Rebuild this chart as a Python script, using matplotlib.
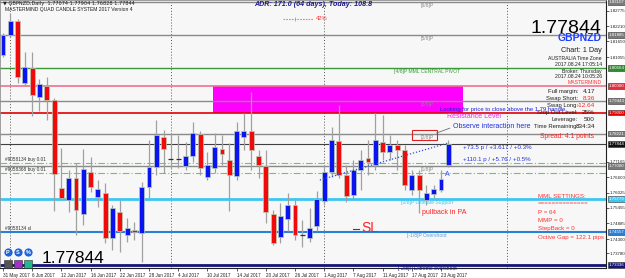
import matplotlib
matplotlib.use('Agg')
import matplotlib.pyplot as plt
from matplotlib.patches import Rectangle
from matplotlib.transforms import blended_transform_factory

plt.rcParams['font.family'] = ['Liberation Sans', 'DejaVu Sans']

# GBPNZD daily bars, 31 May 2017 .. 24 Aug 2017
date_labels = ['31 May 2017', '6 Jun 2017', '12 Jun 2017', '16 Jun 2017', '22 Jun 2017',
               '28 Jun 2017', '4 Jul 2017', '10 Jul 2017', '14 Jul 2017', '20 Jul 2017',
               '26 Jul 2017', '1 Aug 2017', '7 Aug 2017', '11 Aug 2017', '17 Aug 2017',
               '23 Aug 2017']
label_bars = [0, 4, 8, 12, 16, 20, 24, 28, 32, 36, 40, 44, 48, 52, 56, 60]
month_starts = [1, 23, 44, 69]

opens = [1.81138, 1.81881, 1.82401, 1.80098, 1.80655, 1.79577, 1.79986, 1.79466, 1.76197, 1.75751,
         1.76568, 1.75231, 1.76791, 1.75862, 1.76011, 1.74339, 1.75305, 1.74451, 1.74636, 1.74525,
         1.76234, 1.76977, 1.78091, 1.77274, 1.77274, 1.77014, 1.77386, 1.78203, 1.76605, 1.76940,
         1.77646, 1.77237, 1.76643, 1.78091, 1.78314, 1.77386, 1.77014, 1.75231, 1.74376, 1.75045,
         1.75565, 1.74451, 1.74339, 1.74785, 1.75714, 1.76791, 1.77943, 1.76680, 1.75937, 1.76865,
         1.77311, 1.77051, 1.77906, 1.77534, 1.77794, 1.77608, 1.76122, 1.76680, 1.75751, 1.75974,
         1.76122, 1.77051]
highs = [1.81955, 1.82698, 1.82475, 1.81249, 1.81249, 1.80246, 1.80320, 1.79540, 1.77683, 1.76865,
         1.77126, 1.77646, 1.77348, 1.76494, 1.76383, 1.75565, 1.75751, 1.75082, 1.74934, 1.76420,
         1.77980, 1.78723, 1.78351, 1.78240, 1.78166, 1.77906, 1.78649, 1.78314, 1.77534, 1.78240,
         1.78166, 1.77869, 1.78649, 1.78983, 1.79763, 1.77608, 1.77608, 1.75379, 1.75640, 1.76011,
         1.75825, 1.75008, 1.75454, 1.76085, 1.77051, 1.78463, 1.79280, 1.77051, 1.77237, 1.77608,
         1.77980, 1.78983, 1.78909, 1.78166, 1.77980, 1.77794, 1.76865, 1.76865, 1.76308, 1.76308,
         1.76865, 1.77980]
lows = [1.81063, 1.81806, 1.80098, 1.79986, 1.78872, 1.79057, 1.78723, 1.75342, 1.75751, 1.75305,
        1.74451, 1.74822, 1.76048, 1.75491, 1.74154, 1.73893, 1.73819, 1.74191, 1.74265, 1.73448,
        1.75825, 1.76680, 1.76754, 1.76940, 1.76940, 1.76865, 1.77163, 1.76680, 1.76494, 1.76754,
        1.77051, 1.75342, 1.76494, 1.77608, 1.76865, 1.76568, 1.74897, 1.74079, 1.74154, 1.74599,
        1.74265, 1.74005, 1.74191, 1.74599, 1.75565, 1.76605, 1.76568, 1.75677, 1.75751, 1.76122,
        1.76680, 1.76865, 1.77237, 1.77237, 1.76865, 1.76122, 1.75937, 1.75268, 1.75565, 1.75825,
        1.76048, 1.76977]
closes = [1.81881, 1.82401, 1.80320, 1.80692, 1.79652, 1.80060, 1.79466, 1.76717, 1.75825, 1.76568,
          1.75379, 1.76903, 1.76234, 1.76160, 1.74339, 1.75454, 1.74599, 1.74711, 1.74562, 1.76234,
          1.76977, 1.78166, 1.77646, 1.77255, 1.77255, 1.77386, 1.78240, 1.76940, 1.77051, 1.77720,
          1.77460, 1.76680, 1.78314, 1.78314, 1.77608, 1.77051, 1.75305, 1.74154, 1.75157, 1.75565,
          1.74451, 1.74432, 1.74711, 1.75788, 1.76791, 1.77980, 1.76680, 1.75900, 1.76865, 1.77237,
          1.77163, 1.77980, 1.77534, 1.77794, 1.77608, 1.76308, 1.76680, 1.76122, 1.76011, 1.76160,
          1.76531, 1.77844]

# Murrey math levels
mml_levels = [1.83107, 1.81885, 1.80664, 1.79443, 1.78221, 1.77000, 1.75779, 1.74557, 1.73336]
mml_names = ['[6/8]P', '[5/8]P', '[4/8]P MML CENTRAL PIVOT', '[3/8]P', '[2/8]P', '[1/8]P',
             '[0/8]P Ultimate Support', '[-1/8]P Overshoot', '[-2/8]P Extreme overshoot']
mml_colors = ['#8a8a8a', '#8a8a8a', '#3a9a3a', '#8a8a8a', '#8a8a8a', '#8a8a8a',
              '#3ec6f2', '#2a7fd8', '#14147a']
mml_text_colors = ['#8a8a8a', '#8a8a8a', '#3a9a3a', '#8a8a8a', '#8a8a8a', '#8a8a8a',
                   '#3ec6f2', '#5a9ee0', '#14147a']
mml_widths = [1, 1, 1, 1, 1, 1, 2, 1.5, 2]
mml_box_colors = ['#7a7a7a', '#7a7a7a', '#2e8b2e', '#7a7a7a', '#7a7a7a', '#7a7a7a',
                  '#3ec6f2', '#2a7fd8', '#14147a']

last_price = 1.77844
mastermind_level = 1.80000
resistance_level = 1.79000
zone_bars = [28.7, 63.0]
buy_orders = [1.77126, 1.76754]
order_names = ['#9058134 buy 0.01', '#9058368 buy 0.01']
sl_level = 1.74557
trend_bars = [43.4, 61.0]
trend_prices = [1.76494, 1.77869]
price_ticks = [1.82775, 1.82210, 1.81650, 1.81055, 1.80525, 1.79980, 1.79440, 1.78880, 1.78320,
               1.77760, 1.77165, 1.76600, 1.76025, 1.75455, 1.74885, 1.74300, 1.73780, 1.73200]

W, H = 625, 278


def fx(px):
    return px / W


def fy(py):
    return 1 - py / H


fig = plt.figure(figsize=(W / 100, H / 100), dpi=100)
fig.patch.set_facecolor('white')
ax = fig.add_axes([0, 10 / H, 606 / W, 268 / H])
ax.set_facecolor('#f7f7f7')
ax.set_xlim(-0.41, 82.6)
ax.set_ylim(1.73225, 1.83181)

# month separators
for m in month_starts:
    ax.axvline(m, color='#555555', lw=0.7, ls=(0, (1, 2)), zorder=1)

# zone between 1.79 and 1.80
ax.add_patch(Rectangle((zone_bars[0], resistance_level), zone_bars[1] - zone_bars[0],
                       mastermind_level - resistance_level, facecolor='#ff00ff',
                       edgecolor='none', zorder=1))

# MML lines
for lvl, c, lw in zip(mml_levels, mml_colors, mml_widths):
    ax.axhline(lvl, color=c, lw=lw, zorder=2)
ax.axhline(mastermind_level, color='#f07090', lw=1.2, zorder=2)
ax.axhline(resistance_level, color='#e00000', lw=1.2, zorder=2)
ax.axhline(last_price, color='#404040', lw=0.8, zorder=2)
for o in buy_orders:
    ax.axhline(o, color='#6cc46c', lw=0.8, ls=(0, (6, 2, 1, 2)), zorder=2)

# candles
for i in range(len(opens)):
    o, h, l, c = opens[i], highs[i], lows[i], closes[i]
    ax.vlines(i, l, h, color='#a0a0a0', lw=0.9, zorder=3)
    if abs(c - o) < 0.0002:
        ax.hlines(o, i - 0.35, i + 0.35, color='#303030', lw=0.9, zorder=4)
        continue
    col = '#0a14f0' if c > o else '#f00a0a'
    ax.bar(i, abs(c - o), bottom=min(o, c), width=0.68, color=col,
           edgecolor='#b8ccb8', lw=0.5, zorder=4)

# trend line + marker
ax.plot(trend_bars, trend_prices, color='#3050e0', lw=0.9, ls=(0, (1, 1.5)), zorder=5)
ax.text(60.8, 1.7668, 'A', color='#3050e0', fontsize=5, ha='center', va='center', zorder=6)

# level labels
for lvl, name, tc in zip(mml_levels, mml_names, mml_text_colors):
    ax.text(58.1, lvl - 0.0004, name, color=tc, fontsize=3.6, ha='center', va='top', zorder=6)

# order labels
ax.text(0.3, buy_orders[0] + 0.0003, order_names[0], fontsize=3.4, color='#303030', va='bottom')
ax.text(0.3, buy_orders[1] + 0.0003, order_names[1], fontsize=3.4, color='#303030', va='bottom')
ax.text(0.3, sl_level + 0.0003, '#9058134 sl', fontsize=3.4, color='#303030', va='bottom')

# observe box
ax.add_patch(Rectangle((56.0, 1.77980), 3.4, 0.00371, facecolor='none',
                       edgecolor='#e02020', lw=0.8, zorder=6))
ax.plot([59.4, 61.2], [1.78240, 1.78420], color='#707070', lw=0.6, zorder=6)

# price boxes on the axis
box_levels = mml_levels + [mastermind_level, resistance_level, last_price]
box_colors = mml_box_colors + ['#e03040', '#e00000', '#101010']
shown_ticks = [t for t in price_ticks if min(abs(t - b) for b in box_levels) > 0.0016]

# axes styling
ax.set_xticks(label_bars)
ax.set_xticklabels(date_labels, fontsize=3.3, ha='left')
ax.yaxis.tick_right()
ax.set_yticks(shown_ticks)
ax.set_yticklabels(['%.5f' % t for t in shown_ticks], fontsize=3.2)
ax.tick_params(axis='both', length=2, width=0.5, pad=0.8, colors='#202020')
ax.tick_params(axis='x', pad=1.5)
for s in ['left', 'top']:
    ax.spines[s].set_color('#909090')
    ax.spines[s].set_linewidth(0.6)
for s in ['right', 'bottom']:
    ax.spines[s].set_color('#202020')
    ax.spines[s].set_linewidth(0.8)

tr = blended_transform_factory(ax.transAxes, ax.transData)
for lvl, bc in zip(box_levels, box_colors):
    ax.text(1.004, lvl, '%.5f' % lvl, transform=tr, fontsize=3.2, color='white',
            ha='left', va='center', zorder=10, clip_on=False,
            bbox=dict(boxstyle='square,pad=0.2', fc=bc, ec='#303030', lw=0.4))

# header texts
fig.text(fx(3), fy(4), '\u25bc GBPNZD,Daily  1.77074 1.77904 1.76828 1.77844',
         fontsize=3.6, color='#202020', va='center', family=['DejaVu Sans'])
fig.text(fx(5), fy(10), 'MASTERMIND QUAD CANDLE SYSTEM 2017 Version 4', fontsize=3.6,
         color='#202020', va='center')
fig.text(fx(254), fy(5), 'ADR: 171.0 (64 days), Today: 108.8', fontsize=5.1,
         color='#1a1a90', fontweight='bold', fontstyle='italic', va='center')
ax.plot([38.4, 42.5], [1.8247, 1.8247], color='#f08080', lw=0.8, ls=(0, (1.5, 1)), zorder=5)
ax.vlines(40.0, 1.8240, 1.8255, color='#f08080', lw=0.6, zorder=5)
fig.text(fx(316), fy(19), '42%', fontsize=4.2, color='#ff3030', va='center')

# right info panel
fig.text(fx(601), fy(33), '1.77844', fontsize=14, color='black', ha='right', va='baseline')
fig.text(fx(602), fy(38), 'GBPNZD', fontsize=7.5, color='#1f3fff', fontweight='bold',
         ha='right', va='center')
fig.text(fx(602), fy(51), 'Chart: 1 Day', fontsize=5.2, color='#202020', ha='right', va='center')
panel_lines = ['AUSTRALIA Time Zone', '2017.08.24 17:05:14', 'Broker: Thursday',
               '2017.08.24 10:05:26']
for k, t in enumerate(panel_lines):
    fig.text(fx(602), fy(58.5 + k * 5.5 + (1.5 if k > 1 else 0)), t, fontsize=3.7,
             color='#202020', ha='right', va='center')
fig.text(fx(602), fy(82.5), 'MASTERMIND', fontsize=3.7, color='#ff3030', ha='right', va='center')

acc_labels = ['Full margin:', 'Swap Short:', 'Swap Long:', 'Stop Out Level:', 'Leverage:',
              'Time Remaining:']
acc_values = ['4.17', '8.36', '-12.64', '25%', '500', '834:34']
acc_colors = ['#202020', '#ff2020', '#ff2020', '#202020', '#202020', '#202020']
for k in range(len(acc_labels)):
    yy = fy(92 + k * 6.9)
    fig.text(fx(578), yy, acc_labels[k], fontsize=4.2, color='#202020', ha='right', va='center')
    fig.text(fx(595), yy, acc_values[k], fontsize=4.6, color=acc_colors[k], ha='right',
             va='center')
fig.text(fx(594), fy(137), 'Spread: 4.1 points', fontsize=4.8, color='#ff2020', ha='right',
         va='center')

# notes
fig.text(fx(440), fy(109), 'Looking for price to close above the 1.79 handle.', fontsize=4.2,
         color='#2020e0', va='center')
fig.text(fx(447), fy(116.5), 'Resistance Level', fontsize=5, color='#ff20ff', va='center')
fig.text(fx(453), fy(126.5), 'Observe interaction here', fontsize=5, color='#2030e0',
         va='center')
fig.text(fx(463), fy(147), '+73.5 p / +3.617 / +0.3%', fontsize=4.4, color='#2030e0',
         va='center')
fig.text(fx(463), fy(159.5), '+110.1 p / +5.76 / +0.5%', fontsize=4.4, color='#2030e0',
         va='center')
fig.text(fx(422), fy(212), 'pullback in PA', fontsize=5, color='#ff2020', va='center')
fig.text(fx(361), fy(228), 'SL', fontsize=10, color='#ff2020', va='center')
ax.plot([47.9, 48.8], [1.7469, 1.7469], color='#2a3fa0', lw=0.8, zorder=5)

mml_settings = ['MML SETTINGS:', '==============', 'P = 64', 'MMP = 0', 'StepBack = 0',
                'Octive Gap = 122.1 pips']
for k, t in enumerate(mml_settings):
    fig.text(fx(538), fy(196 + k * 8.2), t, fontsize=4.4, color='#ff3030', va='center')

# bottom left widgets
fig.text(fx(42), fy(263), '1.77844', fontsize=12.5, color='black', va='baseline')
for k, sym in enumerate(['P', 'S', '%']):
    fig.lines.append(plt.Line2D([fx(8 + 10 * k)], [fy(252)], marker='o', ms=6.5,
                                color='#1e64d8', mec='white', mew=0.5,
                                transform=fig.transFigure))
    fig.text(fx(8 + 10 * k), fy(252), sym, fontsize=4, color='white', fontweight='bold',
             ha='center', va='center')
for k, c in enumerate(['#555555', '#a030c8', '#20b890']):
    fig.lines.append(plt.Line2D([fx(8 + 10 * k)], [fy(263.5)], marker='s', ms=5.5, color=c,
                                mec='#303030', mew=0.4, transform=fig.transFigure))

fig.savefig('out.png', dpi=100)
